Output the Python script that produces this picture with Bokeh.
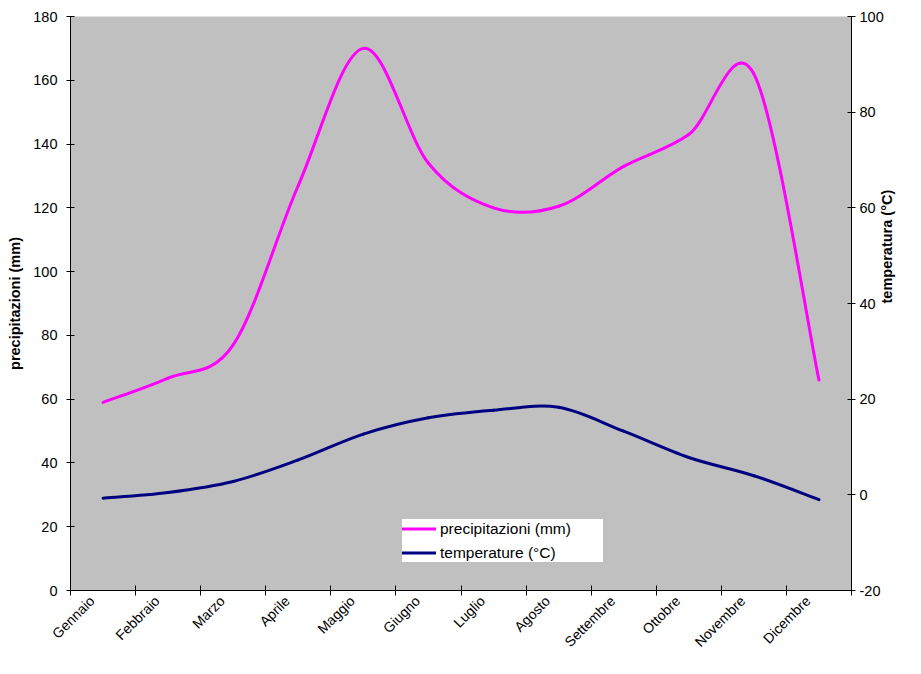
import math
from bokeh.plotting import figure
from bokeh.models import (Range1d, LinearAxis, FixedTicker, SingleIntervalTicker,
                          CustomJSTickFormatter, ColumnDataSource, Legend, LegendItem, Title)
from bokeh.embed import file_html
from bokeh.resources import INLINE

months = ["Gennaio", "Febbraio", "Marzo", "Aprile", "Maggio", "Giugno",
          "Luglio", "Agosto", "Settembre", "Ottobre", "Novembre", "Dicembre"]
precip = [59, 66.6, 77, 127, 170, 134, 120, 120.5, 133, 143, 162, 66]
temp = [-0.7, 0.5, 2.8, 7.3, 12.7, 16.1, 17.7, 18.3, 13.3, 7.8, 4.0, -1.0]

FONT = "Liberation Sans"
PINK = "#FF00FF"
NAVY = "#000080"
LABEL_SHIFT = -0.17   # rotated month labels sit slightly left of the month centre


def smooth_source(vals):
    """Bezier segments through each data point (Excel-style smoothed line)."""
    xs = [i + 0.5 for i in range(len(vals))]
    n = len(vals)
    d = dict(x0=[], y0=[], x1=[], y1=[], cx0=[], cy0=[], cx1=[], cy1=[])
    for i in range(n - 1):
        a = max(i - 1, 0)
        b = min(i + 2, n - 1)
        d["x0"].append(xs[i]); d["y0"].append(vals[i])
        d["x1"].append(xs[i + 1]); d["y1"].append(vals[i + 1])
        d["cx0"].append(xs[i] + (xs[i + 1] - xs[a]) / 6)
        d["cy0"].append(vals[i] + (vals[i + 1] - vals[a]) / 6)
        d["cx1"].append(xs[i + 1] - (xs[b] - xs[i]) / 6)
        d["cy1"].append(vals[i + 1] - (vals[b] - vals[i]) / 6)
    return ColumnDataSource(d)


p = figure(width=905, height=658, output_backend="svg", toolbar_location=None,
           x_range=Range1d(0, len(months)), y_range=Range1d(0, 180),
           min_border_left=70, min_border_right=49, min_border_top=16,
           min_border_bottom=68, x_axis_location=None, y_axis_location=None)
p.extra_y_ranges = {"temp": Range1d(-20, 100)}
p.background_fill_color = "#C0C0C0"
p.border_fill_color = "white"
p.outline_line_color = None
p.xgrid.visible = False
p.ygrid.visible = False

# bottom axis: labels for each month, tick marks at month boundaries
xaxis = LinearAxis(
    ticker=FixedTicker(ticks=[i + 0.5 + LABEL_SHIFT for i in range(len(months))],
                       minor_ticks=list(range(len(months) + 1))),
    formatter=CustomJSTickFormatter(args=dict(m=months, s=LABEL_SHIFT), code="""
        const i = Math.round(tick - 0.5 - s);
        return (i >= 0 && i < m.length) ? m[i] : "";
    """))
xaxis.major_tick_in = 0
xaxis.major_tick_out = 0
xaxis.minor_tick_in = 5
xaxis.minor_tick_out = 5
xaxis.minor_tick_line_color = "black"
xaxis.axis_line_color = "black"
xaxis.major_label_orientation = math.pi / 4
xaxis.major_label_standoff = 3
xaxis.major_label_text_font = FONT
xaxis.major_label_text_font_size = "14px"
xaxis.major_label_text_color = "black"
p.add_layout(xaxis, "below")

int_fmt = CustomJSTickFormatter(code="return tick.toFixed(0);")
yl = LinearAxis(ticker=SingleIntervalTicker(interval=20), formatter=int_fmt,
                axis_label="precipitazioni (mm)")
yr = LinearAxis(ticker=SingleIntervalTicker(interval=20), formatter=int_fmt,
                y_range_name="temp")
for ax in (yl, yr):
    ax.major_tick_in = 4
    ax.major_tick_out = 4
    ax.minor_tick_line_color = None
    ax.axis_line_color = "black"
    ax.major_label_text_font = FONT
    ax.major_label_text_font_size = "14.5px"
    ax.major_label_text_color = "black"
    ax.axis_label_text_font = FONT
    ax.axis_label_text_font_style = "bold"
    ax.axis_label_text_font_size = "14.5px"
    ax.axis_label_text_color = "black"
yl.major_label_standoff = 9
yl.axis_label_standoff = 7
yr.major_label_standoff = 4

right_title = "temperatura (°C)"
if "axis_label_orientation" in yr.properties():
    yr.axis_label = right_title
    yr.axis_label_standoff = 0
    yr.axis_label_orientation = math.pi / 2
    p.add_layout(yl, "left")
    p.add_layout(yr, "right")
else:
    p.add_layout(yl, "left")
    p.add_layout(yr, "right")
    p.add_layout(Title(text=right_title, align="center", text_font=FONT,
                       text_font_style="bold", text_font_size="14.5px",
                       text_color="black", standoff=0, offset=0), "right")

r1 = p.bezier(x0="x0", y0="y0", x1="x1", y1="y1", cx0="cx0", cy0="cy0",
              cx1="cx1", cy1="cy1", source=smooth_source(precip),
              line_color=PINK, line_width=3, line_cap="round")
r2 = p.bezier(x0="x0", y0="y0", x1="x1", y1="y1", cx0="cx0", cy0="cy0",
              cx1="cx1", cy1="cy1", source=smooth_source(temp),
              line_color=NAVY, line_width=3, line_cap="round", y_range_name="temp")

legend = Legend(items=[LegendItem(label="precipitazioni (mm)", renderers=[r1]),
                       LegendItem(label="temperature (°C)", renderers=[r2])],
                location=(332, 28), orientation="vertical")
legend.background_fill_color = "white"
legend.background_fill_alpha = 1.0
legend.border_line_color = None
legend.padding = 5
legend.margin = 0
legend.spacing = 5
legend.glyph_width = 34
legend.glyph_height = 19
legend.label_height = 19
legend.label_width = 163
legend.label_standoff = 4
legend.label_text_font = FONT
legend.label_text_font_size = "15.5px"
legend.label_text_color = "black"
p.add_layout(legend, "center")

open("out.html", "w").write(file_html(p, INLINE))
